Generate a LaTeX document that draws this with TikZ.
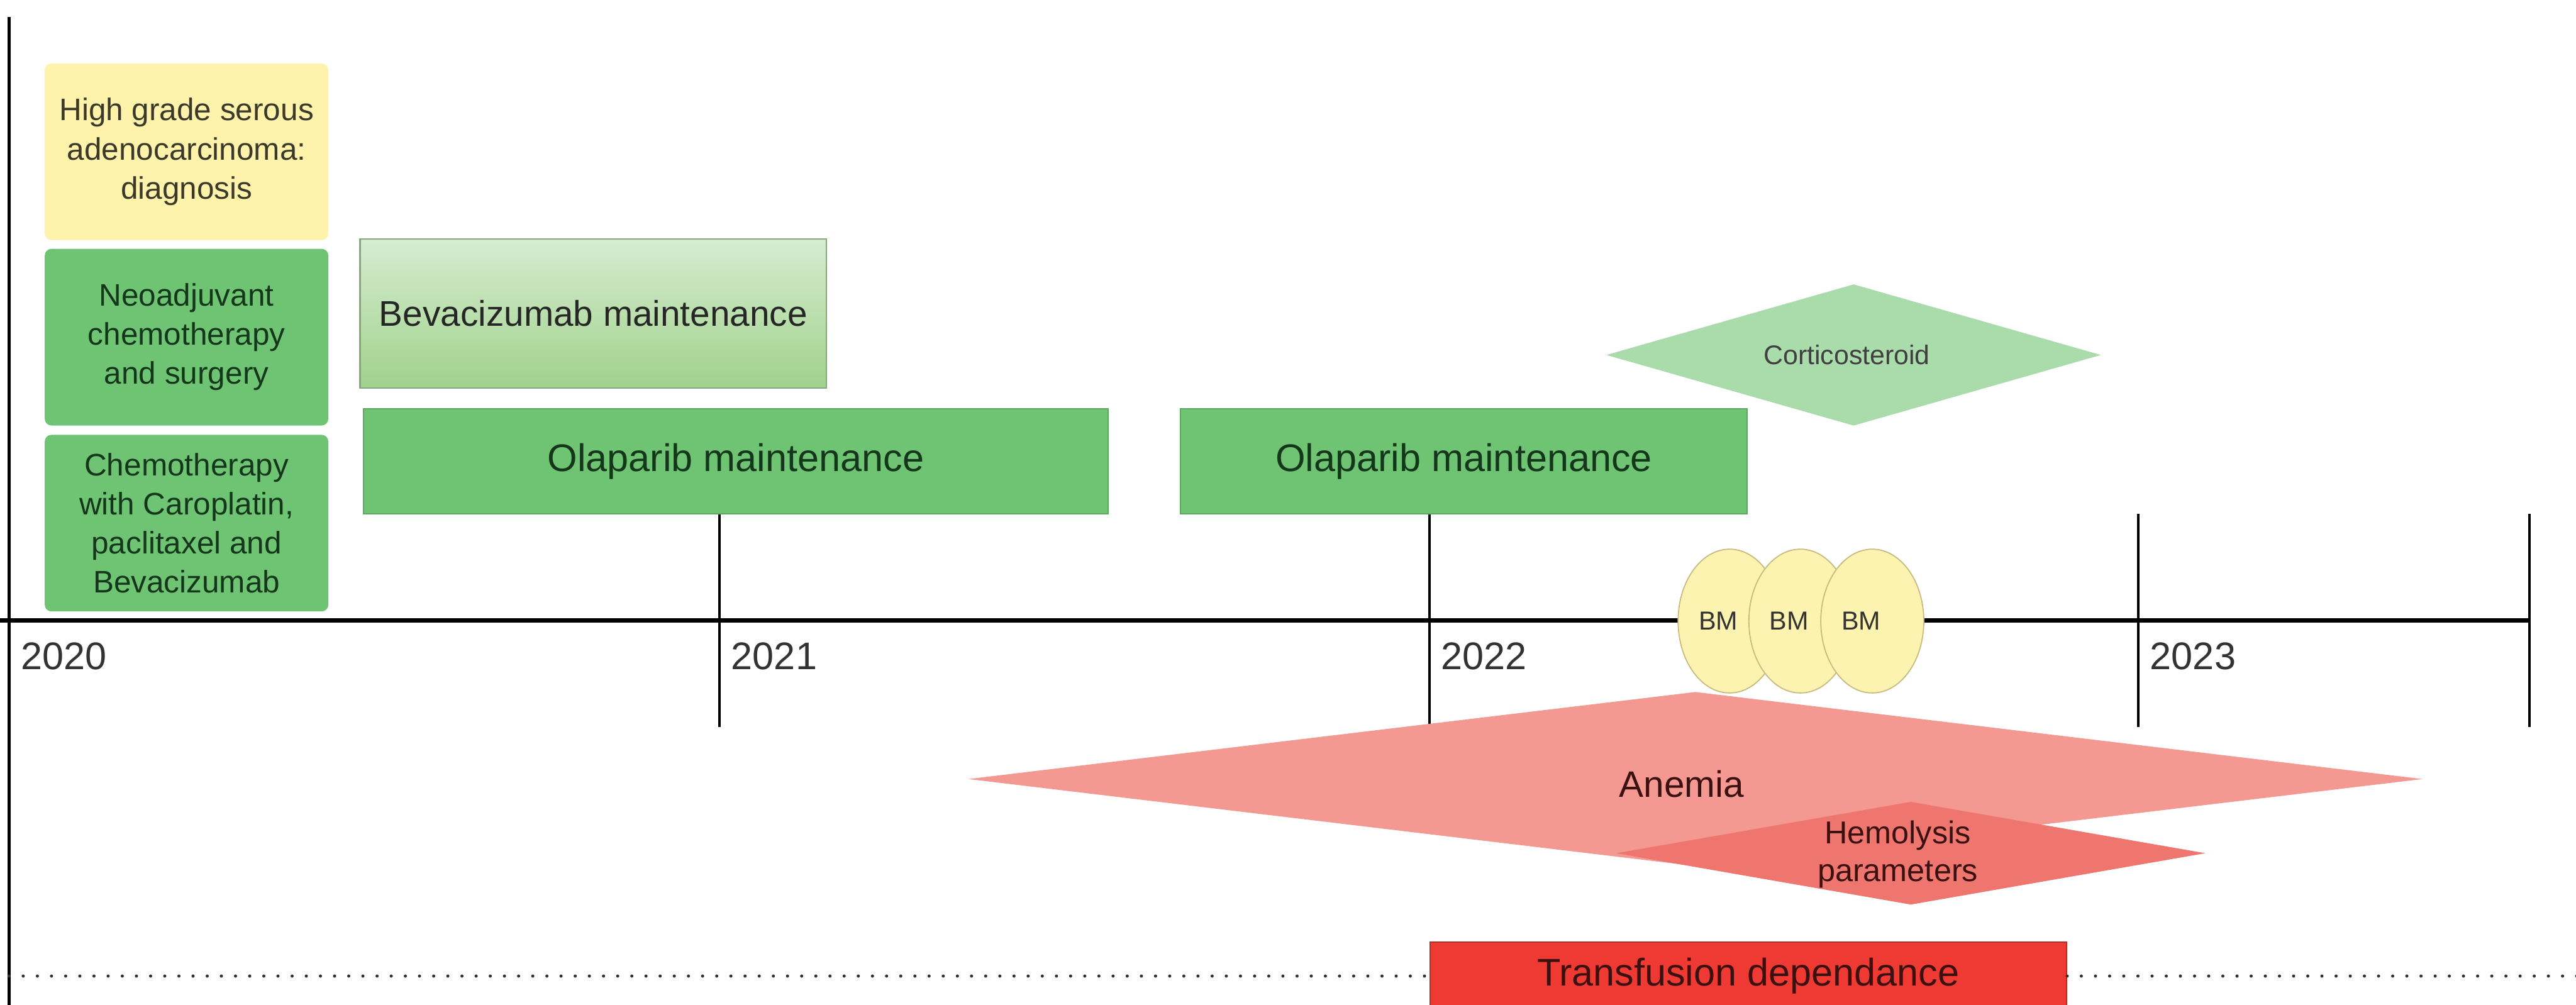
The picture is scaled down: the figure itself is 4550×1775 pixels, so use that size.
\documentclass[tikz,border=0pt]{standalone}
\usepackage{fontspec}
\setmainfont{Liberation Sans}
\usetikzlibrary{shapes.geometric}
\definecolor{diagY}{HTML}{FFF2AB}
\definecolor{grn}{HTML}{6FC474}
\definecolor{grnEdge}{HTML}{5EA862}
\definecolor{grnTxt}{HTML}{14361A}
\definecolor{bevTop}{HTML}{D6ECD0}
\definecolor{bevBot}{HTML}{A0D28C}
\definecolor{bevEdge}{HTML}{8AA57E}
\definecolor{cortC}{HTML}{AADBAA}
\definecolor{bmFill}{HTML}{FDF3B0}
\definecolor{bmEdge}{HTML}{C8BB80}
\definecolor{anem}{HTML}{F49892}
\definecolor{hemo}{HTML}{EF766F}
\definecolor{transC}{HTML}{EE3A32}
\definecolor{transEdge}{HTML}{B0302A}
\definecolor{redTxt}{HTML}{3A1010}
\definecolor{yearTxt}{HTML}{333333}
\definecolor{diagTxt}{HTML}{3B3A2A}
\begin{document}
\begin{tikzpicture}[x=0.25pt,y=-0.25pt,
  axisline/.style={line width=2pt,black},
  vline/.style={line width=1.25pt,black},
  tickline/.style={line width=1.2pt,black},
  year/.style={font=\fontsize{17}{20}\selectfont,text=yearTxt,inner sep=0pt},
  leftbox/.style={rectangle,rounded corners=3pt,minimum width=125.25pt,minimum height=78pt,
    align=center,inner sep=0pt,font=\fontsize{13.75}{17.25}\selectfont},
  olabox/.style={rectangle,fill=grn,draw=grnEdge,line width=0.6pt,minimum height=46.5pt,
    inner sep=0pt,text=grnTxt,font=\fontsize{17}{20}\selectfont},
  bevbox/.style={rectangle,top color=bevTop,bottom color=bevBot,draw=bevEdge,line width=0.6pt,
    minimum width=206pt,minimum height=65.75pt,inner sep=0pt,text=black!85,font=\fontsize{15.75}{19}\selectfont},
  diamondshape/.style={diamond,inner sep=0pt,draw=none},
  bmshape/.style={ellipse,fill=bmFill,draw=bmEdge,line width=0.5pt,minimum width=45.5pt,
    minimum height=63.5pt,inner sep=0pt},
  bmtext/.style={font=\fontsize{11.5}{13}\selectfont,text=black!80,inner sep=0pt},
  transbox/.style={rectangle,fill=transC,draw=transEdge,line width=0.6pt,minimum width=281pt,
    minimum height=30pt,inner sep=0pt,text=redTxt,font=\fontsize{17}{20}\selectfont},
  dotline/.style={line width=1.4pt,line cap=round,dash pattern=on 0pt off 6.25pt,black!80}
]
\useasboundingbox (0,0) rectangle (4550,1775);
\fill[white] (0,0) rectangle (4550,1775);

% main axis and left line
\coordinate (axL) at (0,1096);
\coordinate (axR) at (4468,1096);
\coordinate (vTop) at (16,30);
\coordinate (vBot) at (16,1775);
\draw[axisline] (axL) -- (axR);
\draw[vline] (vTop) -- (vBot);
\foreach \x/\n in {1271/ta,2525/tb,3777/tc,4468/td}{
  \coordinate (\n1) at (\x,908);
  \coordinate (\n2) at (\x,1284);
  \draw[tickline] (\n1) -- (\n2);
}

% year labels
\node[year,anchor=base west] (y2020) at (36,1182) {2020};
\node[year,anchor=base west] (y2021) at (1291,1182) {2021};
\node[year,anchor=base west] (y2022) at (2545,1182) {2022};
\node[year,anchor=base west] (y2023) at (3797,1182) {2023};

% left column boxes
\node[leftbox,fill=diagY,text=diagTxt] (diag) at (329.5,268)
  {High grade serous\\adenocarcinoma:\\diagnosis};
\node[leftbox,fill=grn,text=grnTxt] (neo) at (329.5,595.5)
  {Neoadjuvant\\chemotherapy\\and surgery};
\node[leftbox,fill=grn,text=grnTxt] (chemo) at (329.5,924)
  {Chemotherapy\\with Caroplatin,\\paclitaxel and\\Bevacizumab};

% treatments
\node[bevbox] (beva) at (1048,553.5) {Bevacizumab maintenance};
\node[olabox,minimum width=328.75pt] (ola1) at (1299.5,815) {Olaparib maintenance};
\node[olabox,minimum width=250.25pt] (ola2) at (2585.5,815) {Olaparib maintenance};

% corticosteroid
\node[diamondshape,fill=cortC,minimum width=218.5pt,minimum height=62.5pt] (cort) at (3274,627) {};
\node[font=\fontsize{11.9}{14}\selectfont,text=black!75,inner sep=0pt] (cortT) at (3262,627) {Corticosteroid};

% anemia and hemolysis
\node[diamondshape,fill=anem,minimum width=642.25pt,minimum height=77pt] (anemia) at (2994.5,1376) {};
\node[font=\fontsize{16.25}{19}\selectfont,text=redTxt,inner sep=0pt] (anemiaT) at (2970,1385) {Anemia};
\node[diamondshape,fill=hemo,minimum width=260.25pt,minimum height=45.5pt] (hemo) at (3375,1507) {};
\node[font=\fontsize{14}{16.5}\selectfont,text=redTxt,align=center,inner sep=0pt] (hemoT) at (3352,1509)
  {Hemolysis\\parameters};

% bone marrow
\node[bmshape] (bm1) at (3055,1097) {};
\node[bmshape] (bm2) at (3180,1097) {};
\node[bmshape] (bm3) at (3307,1097) {};
\node[bmtext] (bm1t) at (3035,1097) {BM};
\node[bmtext] (bm2t) at (3160,1097) {BM};
\node[bmtext] (bm3t) at (3287,1097) {BM};

% transfusion
\node[transbox] (trans) at (3088,1724) {Transfusion dependance};
\coordinate (dotL) at (16,1724);
\coordinate (dotR) at (4560,1724);
\draw[dotline] (dotL) -- (trans.west);
\draw[dotline] (trans.east) -- (dotR);
\end{tikzpicture}
\end{document}
